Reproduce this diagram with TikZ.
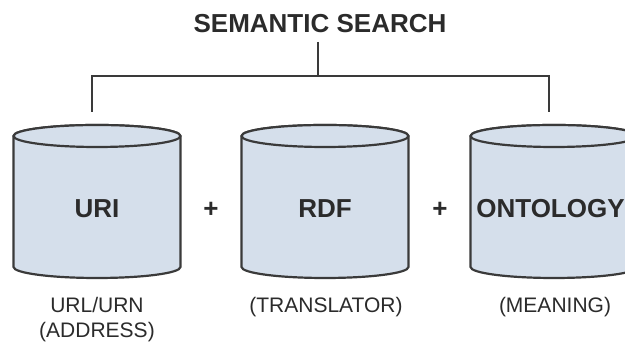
\documentclass[tikz,border=0pt]{standalone}
\usepackage{fontspec}
\setmainfont{Liberation Sans}
\definecolor{inkgrey}{HTML}{2B2B2B}
\definecolor{rimgrey}{HTML}{3A3A3A}
\definecolor{drumfill}{HTML}{D5DFEB}
\tikzset{
  drum/.style={fill=drumfill, draw=rimgrey, line width=2.2pt, line join=round},
  link/.style={draw=rimgrey, line width=2.4pt},
  heading/.style={font=\bfseries\fontsize{26}{30}\selectfont, text=inkgrey, inner sep=0pt},
  inner/.style={font=\bfseries\fontsize{26}{30}\selectfont, text=inkgrey, inner sep=0pt},
  caption/.style={font=\fontsize{21}{25}\selectfont, text=inkgrey, inner sep=0pt, align=center}
}
\begin{document}
\begin{tikzpicture}[x=1pt,y=1pt]
\clip (0,0) rectangle (625,344);
\fill[white] (0,0) rectangle (625,344);

% three storage drums
\foreach \cx in {97,325,554}{
  \path[drum] (\cx-83.5,208) -- (\cx-83.5,77)
    arc[start angle=180, end angle=360, x radius=83.5, y radius=11]
    -- (\cx+83.5,208)
    arc[start angle=0, end angle=180, x radius=83.5, y radius=11] -- cycle;
  \draw[drum] (\cx,208) ellipse[x radius=83.5, y radius=11];
}

% headline and drum labels
\node[heading, anchor=base] (title) at (320,311) {SEMANTIC SEARCH};
\node[inner, anchor=base] (uri)  at (97,126)  {URI};
\node[inner, anchor=base] (rdf)  at (325,126) {RDF};
\node[inner, anchor=base] (onto) at (550.5,126) {ONTOLOGY};
\node[inner] (plusA) at (211,134) {+};
\node[inner] (plusB) at (440,134) {+};

\node[caption, anchor=base] (urilab)  at (97,6)   {URL/URN\\(ADDRESS)};
\node[caption, anchor=base] (rdflab)  at (326,31) {(TRANSLATOR)};
\node[caption, anchor=base] (ontolab) at (555,31) {(MEANING)};

% bracket from the headline down to the outer drums
\coordinate (stemtop) at (318,302);
\coordinate (stemfoot) at (318,268);
\coordinate (lefttip) at (92,232);
\coordinate (righttip) at (549,232);
\draw[link] (stemtop) -- (stemfoot);
\draw[link, line join=miter] (lefttip) |- (stemfoot) -| (righttip);
\end{tikzpicture}
\end{document}
